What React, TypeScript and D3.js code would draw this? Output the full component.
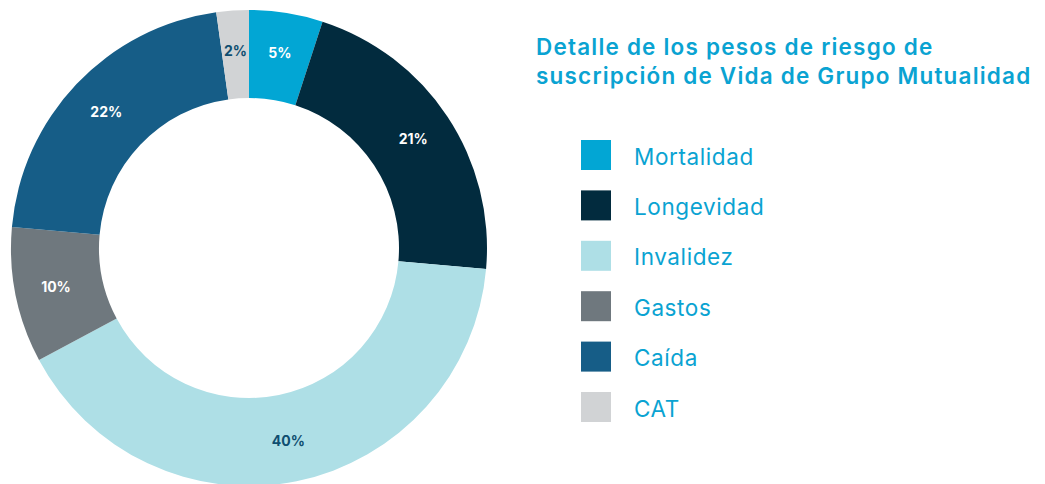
import React from "react";
import * as d3 from "d3";

const categories = ["Mortalidad", "Longevidad", "Invalidez", "Gastos", "Caída", "CAT"];
const values = [5.0, 21.4, 40.8, 9.2, 21.4, 2.2];
const valueLabels = ["5%", "21%", "40%", "10%", "22%", "2%"];
const colors = ["#02a6d4", "#022b3e", "#aedfe6", "#6f787e", "#165d87", "#d1d3d5"];
const labelColors = ["#ffffff", "#ffffff", "#0f4e70", "#ffffff", "#ffffff", "#0f4e70"];
const titleLines = ["Detalle de los pesos de riesgo de", "suscripción de Vida de Grupo Mutualidad"];

const W = 1045;
const H = 484;
const cx = 249;
const cy = 248;
const outerR = 238;
const innerR = 150;

export default function App() {
  const pie = d3.pie<number>().sort(null).value((d) => d)(values);
  const arc = d3.arc<d3.PieArcDatum<number>>().innerRadius(innerR).outerRadius(outerR);
  const labelArc = d3.arc<d3.PieArcDatum<number>>().innerRadius(194).outerRadius(200);
  const legendY = d3.scalePoint<string>().domain(categories).range([155, 407]);
  const font = "Inter, 'Open Sans', sans-serif";
  return (
    <svg
      width={W}
      height={H}
      viewBox={`0 0 ${W} ${H}`}
      style={{ position: "absolute", left: 0, top: 0, display: "block", background: "#fff" }}
    >
      <g transform={`translate(${cx},${cy})`}>
        {pie.map((p, i) => (
          <path key={i} d={arc(p) || ""} fill={colors[i]} />
        ))}
        {pie.map((p, i) => {
          const [x, y] = labelArc.centroid(p);
          return (
            <text
              key={"l" + i}
              x={x}
              y={y}
              dy="0.35em"
              textAnchor="middle"
              fontFamily={font}
              fontWeight={700}
              fontSize={14}
              fill={labelColors[i]}
            >
              {valueLabels[i]}
            </text>
          );
        })}
      </g>
      {titleLines.map((t, i) => (
        <text
          key={"t" + i}
          x={536}
          y={55 + i * 28.5}
          fontFamily={font}
          fontWeight={600}
          fontSize={22.5}
          letterSpacing={1.2}
          fill="#0aa3d2"
        >
          {t}
        </text>
      ))}
      {categories.map((c, i) => {
        const y = legendY(c) as number;
        return (
          <g key={"g" + i}>
            <rect x={581} y={y - 15} width={30} height={30} fill={colors[i]} />
            <text
              x={634}
              y={y + 9.5}
              fontFamily={font}
              fontSize={22.5}
              letterSpacing={0.6}
              fill="#0aa3d2"
            >
              {c}
            </text>
          </g>
        );
      })}
    </svg>
  );
}
